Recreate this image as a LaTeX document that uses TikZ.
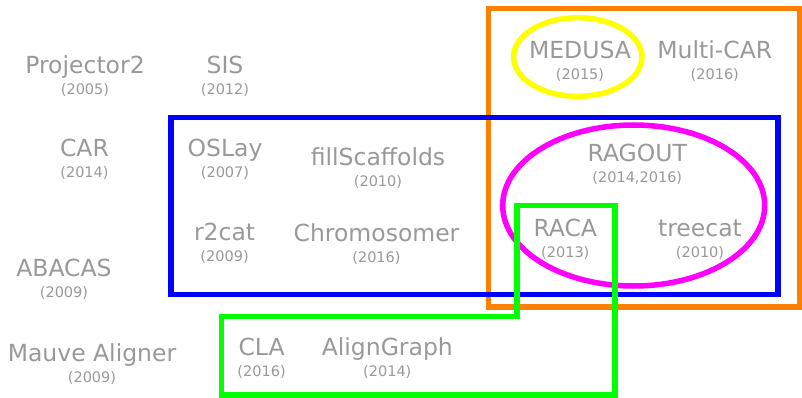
\documentclass[tikz,border=0pt]{standalone}
\usepackage{fontspec}
\setmainfont{DejaVu Sans}
\definecolor{labelgray}{RGB}{153,153,153}
\definecolor{setorange}{RGB}{255,128,0}
\definecolor{setblue}{RGB}{0,0,255}
\definecolor{setgreen}{RGB}{0,255,0}
\definecolor{setmagenta}{RGB}{255,0,255}
\definecolor{setyellow}{RGB}{255,255,0}
\tikzset{
  toolname/.style={anchor=base, inner sep=0pt, text=labelgray,
    font=\fontsize{23.5}{28}\selectfont},
  toolyear/.style={anchor=base, inner sep=0pt, text=labelgray,
    font=\fontsize{14.5}{17}\selectfont},
  groupline/.style={line width=5.5pt, line join=miter},
}
% one tool: name with its year set below it
\newcommand\toolentry[5]{%
  \node[toolname] (#1) at (#2,#3) {#4};
  \node[toolyear] (#1-yr) at (#2,#3+21) {#5};}
\begin{document}
\begin{tikzpicture}[x=1pt,y=-1pt]
  \useasboundingbox (0,0) rectangle (802,398);

  % groups of tools
  \draw[groupline, setorange] (488.5,8.3) rectangle (799.3,306.8);
  \draw[groupline, setblue] (171,117.5) rectangle (778,294.5);
  \draw[groupline, setmagenta] (633.7,205.5) ellipse [x radius=131, y radius=80.5];
  \draw[groupline, setyellow] (577.8,57) ellipse [x radius=64.2, y radius=39.3];
  \draw[groupline, setgreen] (221.7,316.5) -- (516.8,316.5) -- (516.8,205.3)
    -- (615.2,205.3) -- (615.2,394.8) -- (221.7,394.8) -- cycle;

  % tools
  \toolentry{projector2}{85}{74}{Projector2}{(2005)}
  \toolentry{sis}{225}{74}{SIS}{(2012)}
  \toolentry{car}{84.5}{157}{CAR}{(2014)}
  \toolentry{oslay}{225}{157}{OSLay}{(2007)}
  \toolentry{fillscaffolds}{378}{165.5}{fillScaffolds}{(2010)}
  \toolentry{medusa}{580}{58.3}{MEDUSA}{(2015)}
  \toolentry{multicar}{714.8}{58.3}{Multi-CAR}{(2016)}
  \toolentry{ragout}{637.3}{161.7}{RAGOUT}{(2014,2016)}
  \toolentry{r2cat}{224.6}{240.7}{r2cat}{(2009)}
  \toolentry{chromosomer}{376.5}{241.5}{Chromosomer}{(2016)}
  \toolentry{abacas}{64}{276.7}{ABACAS}{(2009)}
  \toolentry{mauve}{92}{361}{Mauve Aligner}{(2009)}
  \toolentry{cla}{261.6}{355}{CLA}{(2016)}
  \toolentry{aligngraph}{387.3}{355}{AlignGraph}{(2014)}
  \toolentry{raca}{565.3}{236}{RACA}{(2013)}
  \toolentry{treecat}{700}{236}{treecat}{(2010)}
\end{tikzpicture}
\end{document}
